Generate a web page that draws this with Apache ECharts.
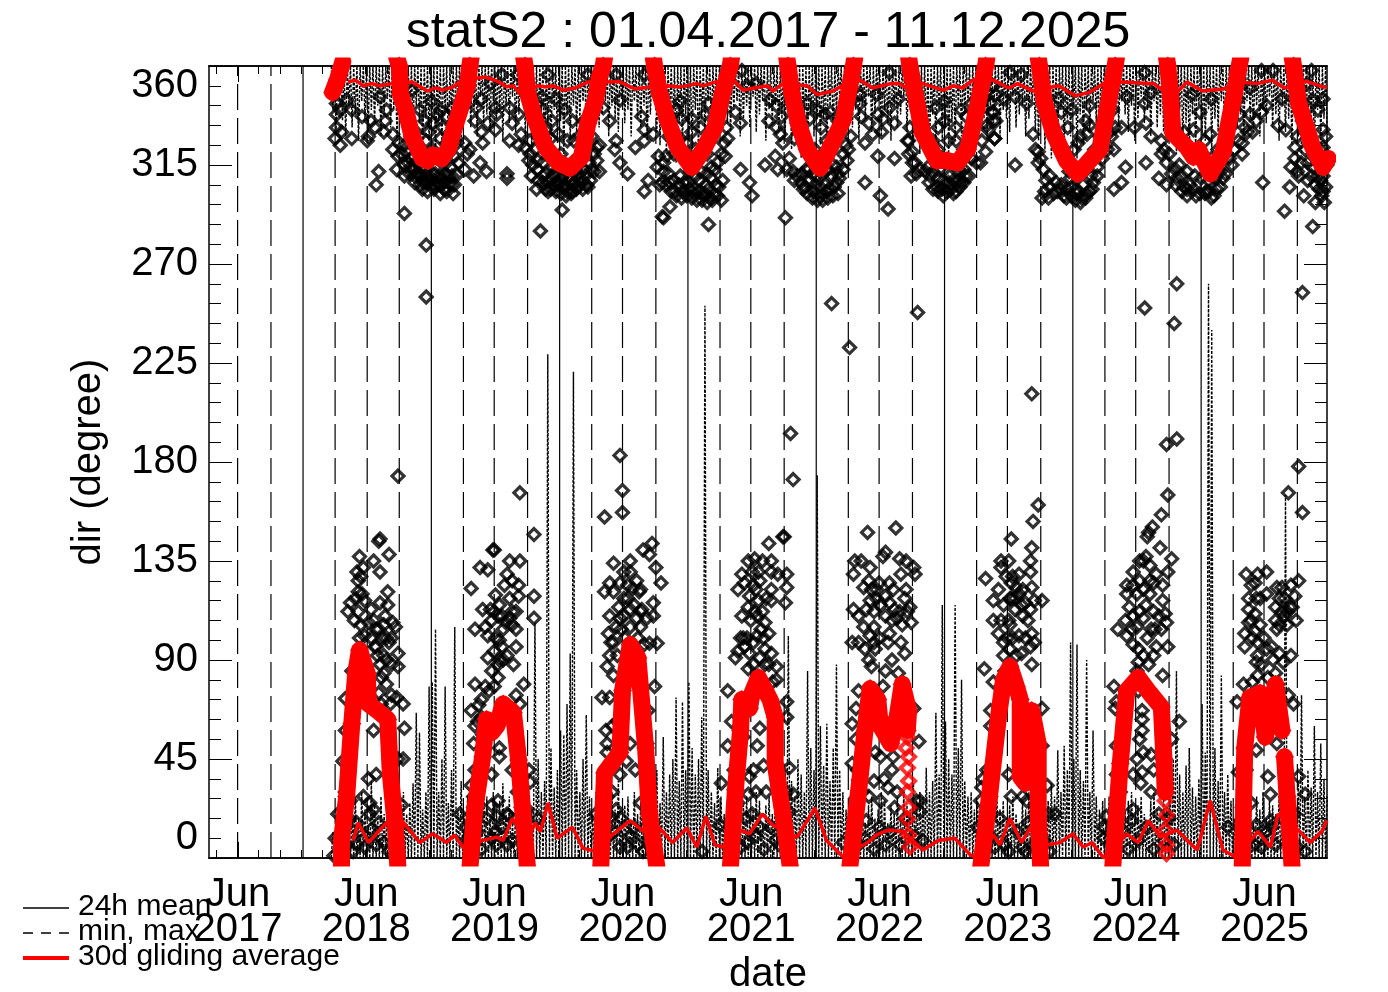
<!DOCTYPE html>
<html><head><meta charset="utf-8">
<script src="https://cdn.jsdelivr.net/npm/echarts@6/dist/echarts.min.js"></script>
<style>html,body{margin:0;padding:0;background:#fff}#c{width:1388px;height:992px}</style>
</head><body><div id="c"></div>
<script>
// Dates are written as decimal years minus 2000; directions in degrees.
const chartTitle = 'statS2 : 01.04.2017 - 11.12.2025';
const legendNames = ['24h mean', 'min, max', '30d gliding average'];
const tickYears = [2017,2018,2019,2020,2021,2022,2023,2024,2025];
const yearLines = [17.97,18.97,19.97,20.97,21.97,22.97,23.97,24.97];
const seasonLines = [17.46,17.72,18.22,18.47,18.72,19.22,19.46,19.72,20.22,20.46,20.72,21.22,21.46,21.72,22.22,22.46,22.72,23.22,23.46,23.72,24.22,24.46,24.72,25.22,25.46,25.72];

// 24h means: pairs of date, direction
const meanWinter19 = [18.23,343,18.31,344.5,18.26,340,18.23,338,18.35,340,18.23,332,18.27,330,18.22,327,18.35,327,18.26,324,18.43,337,18.50,335,18.53,332,18.48,328,18.47,326,18.57,346,18.62,340,18.61,335,18.60,330,18.67,329,18.67,322,18.70,313,18.76,310,18.56,312,18.54,306,18.76,293,18.82,349,18.71,319,18.79,316,18.86,311,18.91,307,18.97,309,19.04,306,19.10,310,19.17,310.5,19.14,302,19.00,311,18.92,313,18.87,316,18.97,344,19.04,340,18.92,335,18.98,334,19.04,327,18.95,330,19.09,337,19.13,341,18.94,309,19.01,306,19.07,307,19.12,306,18.89,310,18.83,313,18.81,318,18.93,278.6,18.93,255];
const meanYear19 = [19.23,313,19.30,310,19.35,316,19.40,312,19.25,320,19.27,322,19.23,325,19.37,325,19.36,330,19.47,331,19.48,338,19.47,341,19.32,341,19.36,345,19.31,335,19.41,334,19.56,311,19.56,309,19.58,326,19.60,334,19.58,341,19.52,356,19.64,356,19.43,352,19.65,338,19.67,329,19.65,324,19.70,323,19.74,326];
const meanWinter20 = [19.73,317,19.80,317,19.75,310,19.79,304,19.88,303,19.96,306,20.02,301,20.10,304,20.18,306,20.22,313,20.26,317,20.26,323,19.93,311,19.86,311,20.04,310,20.12,311,19.99,294.5,19.82,285,19.91,335,19.96,329,20.08,326,19.83,346,19.84,340,20.01,340,19.88,356,20.19,356,19.90,309,19.98,309,20.07,306,20.14,307,20.00,305,19.84,307,20.06,302];
const meanYear20 = [20.31,341,20.36,335,20.41,326,20.40,322,20.56,323,20.44,316,20.50,311,20.66,308,20.63,303,20.73,314,20.77,307,20.77,291.5,20.41,356,20.63,356,20.44,344.5,20.61,337,20.63,331,20.63,326,20.74,319,20.70,329];
const meanWinter21 = [20.78,316,20.75,306,20.83,307,20.87,303,20.83,296,20.78,291,21.13,288,20.91,344,20.92,336,21.00,336,21.00,330,20.91,327,20.80,319,20.91,310,20.97,307,21.02,304,21.09,301,21.14,300,21.23,299,21.21,305,21.15,309,21.18,313,21.06,308,20.93,303,21.12,311,21.26,319,21.28,327,21.13,343,21.10,338];
const meanYear21 = [21.38,334,21.34,339,21.38,313,21.45,307,21.47,301,21.73,291,21.57,315,21.65,319,21.67,313,21.60,335,21.66,342,21.61,344.5,21.50,352,21.43,351,21.39,358,21.66,332,21.69,329,21.71,325,21.70,337,21.75,358];
const meanWinter22 = [21.74,313,21.80,308,21.87,304,21.95,303,22.00,301,22.05,303,22.13,307,22.09,310,21.89,313,21.97,310,22.13,314,22.21,317,22.20,324,22.01,332,22.08,339,21.92,336,21.90,343];
const meanYear22 = [22.31,343,22.32,337,22.38,334,22.35,325,22.41,329,22.48,330,22.45,319,22.58,318,22.35,307,22.47,301,22.53,295,22.45,338,22.54,341,22.61,345,22.58,334,22.49,336,22.54,357,22.44,347,22.31,347,22.09,252,22.23,232,22.76,248];
const meanWinter23 = [22.69,326,22.69,320,22.75,311,22.86,310,22.91,305,22.96,301,23.04,302,23.10,307,23.13,310,22.93,313,23.01,310,23.08,313,22.90,341,22.97,335,22.92,332,23.06,332,23.14,337,23.25,316,23.29,321,23.35,339,23.36,327,23.31,331,23.35,335,23.35,351,23.18,343];
const meanYear23 = [23.34,339,23.37,335,23.36,327,23.52,315,23.43,345,23.52,346,23.61,343,23.37,347,23.48,357,23.57,356,23.65,211];
const meanWinter24 = [23.66,329,23.70,321,23.70,316,23.74,313,23.79,310,23.75,303,23.82,302,23.87,304,23.92,300,23.99,299,24.10,303,24.13,307,24.16,310,24.00,304,24.05,306,23.95,309,23.88,339,23.93,332,24.01,325,24.08,329,24.10,342];
const meanYear24 = [24.29,322,24.26,330,24.35,332,24.45,332,24.54,334,24.58,328,24.54,316,24.38,314,24.35,307,24.29,304,24.64,309,24.53,343,24.58,348,24.53,357,24.39,346,24.53,250,24.78,261,24.76,243];
const meanWinter25 = [24.66,320,24.70,316,24.77,313,24.70,306,24.77,306,24.86,304,24.93,301,25.05,300,25.09,304,25.01,303,25.14,309,25.21,315,25.29,320,25.29,325,25.40,335,25.31,332,24.96,339,24.91,331,25.04,329,24.90,347];
const meanYear25 = [25.48,342,25.44,339,25.57,333,25.63,331,25.70,323,25.67,314,25.73,310,25.45,307,25.66,305,25.77,301,25.62,294,25.86,298,25.91,301,25.84,344.5,25.83,358,25.60,345,25.53,358,25.44,358,25.92,331,25.92,323,25.90,308,25.93,298,25.84,287,25.27,338,25.76,257];
const denseWinter19 = [18.72,325,18.76,324,19.12,326,19.17,325,18.74,320,18.78,321,18.83,319,19.10,320,19.15,319,18.76,315,18.81,314,18.85,316,18.89,314,19.07,315,19.12,314,19.18,316,18.80,311,18.84,310,18.88,311,18.93,310,18.98,311,19.03,310,19.08,311,19.13,310,18.84,307,18.88,306,18.93,307,18.98,306,19.02,307,19.07,304,19.11,307,19.15,306,18.90,304,18.94,303,18.99,304,19.04,302,19.09,303,18.88,340,18.93,326,18.98,322,19.02,338,19.06,332,18.85,330,19.09,325];
const denseWinter20 = [19.74,320,19.78,322,20.24,320,20.28,324,19.76,315,19.80,313,19.84,316,20.20,316,20.24,312,20.28,312,19.80,308,19.84,310,19.88,307,19.92,306,19.97,307,20.01,306,20.05,308,20.09,307,20.13,309,20.17,310,20.21,308,19.86,304,19.90,304,19.94,303,19.98,302,20.03,303,20.07,303,20.11,305,20.15,304,20.19,305,19.92,314,19.96,313,20.00,310,20.04,314,20.08,312,20.12,315,20.16,313,19.94,345,19.98,320,20.03,326,20.07,335,20.12,328,19.90,327,19.86,331,20.16,335,20.22,328];
const denseWinter21 = [20.78,312,20.82,311,20.86,308,20.90,306,20.94,307,20.98,304,21.02,302,21.06,303,21.10,302,21.13,304,21.17,302,21.20,301,21.24,308,20.80,306,20.84,303,20.88,301,20.92,300,20.96,301,21.00,300,21.04,299,21.08,299,21.12,298,21.16,299,21.19,306,20.99,312,21.03,310,21.07,312,21.11,306,21.15,314,21.20,316,21.23,320,21.25,325,21.27,332,20.86,320,20.82,328,20.96,325,21.03,322,21.07,332,21.14,326,21.18,335,21.12,320,20.88,340];
const denseWinter22 = [21.76,318,21.79,312,21.82,310,21.85,307,21.88,305,21.92,308,21.96,306,22.00,305,22.04,306,22.07,304,22.11,305,22.15,309,21.90,302,21.94,300,21.98,299,22.02,299,22.06,300,22.10,301,22.14,302,21.86,311,21.91,313,21.94,311,22.02,311,22.06,313,22.10,315,22.14,311,22.18,313,22.22,322,22.24,328,22.18,320,21.80,327,21.84,330,22.05,326,22.10,325,22.14,335,22.04,338,21.98,340,22.12,330,21.96,322];
const denseWinter23 = [22.70,332,22.68,326,22.72,321,22.72,316,22.78,313,22.82,312,22.85,307,22.88,304,22.92,303,22.95,304,22.99,303,23.02,304,23.06,303,23.09,305,23.12,307,23.16,310,22.84,314,22.88,312,22.92,309,22.96,308,23.00,307,23.04,308,23.08,308,23.12,313,22.88,326,22.84,325,22.92,322,23.00,326,23.06,326,23.12,322,23.18,318,23.22,316,23.26,326,23.30,333,23.33,343,23.22,345,23.28,345,22.97,344,23.10,340,23.16,330,22.74,316,22.71,310];
const denseWinter24 = [23.68,322,23.72,318,23.76,308,23.79,305,23.84,307,23.88,306,23.92,304,23.96,305,24.00,302,24.04,300,24.08,302,24.12,304,23.78,300,23.85,303,23.90,301,23.96,301,24.03,298,24.07,300,24.11,310,24.16,314,24.20,318,24.24,322,24.27,328,24.30,332,23.94,312,24.00,312,24.06,312,24.10,316,24.14,322,24.18,328,24.22,335,23.98,322,24.03,328,24.07,335,23.86,345,23.96,340,24.10,333,24.28,340,23.73,300];
const denseWinter25 = [24.66,326,24.68,322,24.72,320,24.74,311,24.78,309,24.82,310,24.84,305,24.88,306,24.82,303,24.86,301,24.91,304,24.96,302,25.00,302,25.03,303,25.07,301,25.12,305,25.16,311,25.19,318,25.23,322,25.26,326,25.33,330,25.37,330,25.35,338,24.80,315,24.86,312,24.92,310,24.97,309,25.03,308,25.08,309,25.12,312,25.16,320,24.94,322,25.00,326,25.05,318,25.10,322,25.20,332,25.26,345,25.35,350,25.05,345,24.84,330,24.75,342];
const denseWinter26 = [25.70,318,25.72,312,25.75,316,25.78,322,25.80,316,25.83,310,25.86,306,25.89,304,25.92,303,25.94,305,25.80,308,25.84,314,25.88,310,25.92,310,25.95,315,25.78,330,25.76,335,25.90,322,25.94,328,25.88,340,25.92,345,25.72,328,25.74,345,25.80,352];
const meanSummer18 = [18.56,144,18.64,138,18.41,137,18.52,135,18.44,132,18.39,130,18.57,130,18.40,126,18.40,121,18.63,121,18.45,117,18.34,116,18.50,113,18.57,116,18.63,115,18.32,112,18.40,112,18.37,108,18.48,107,18.61,110,18.69,105,18.67,107,18.54,104,18.62,100,18.41,100,18.50,100,18.64,98,18.53,96,18.71,93,18.60,92,18.57,88,18.71,87,18.58,82,18.56,75,18.62,79,18.65,70,18.70,73,18.75,70,18.30,72.5,18.76,59,18.30,58,18.52,58,18.35,85,18.75,45,18.71,45,18.48,36,18.54,38,18.49,25,18.49,20,18.56,16,18.60,7,18.24,20,18.22,9,18.21,1,18.39,6,18.39,16,18.34,26,19.19,20,18.28,44,18.32,44,18.71,173.6,18.57,145];
const meanSummer19 = [19.46,140,19.28,122.5,19.35,132,19.41,131,19.58,135,19.66,135,19.56,129,19.54,124,19.60,126,19.65,124,19.47,119.5,19.58,118,19.65,119,19.77,119,19.37,113,19.43,113,19.50,115,19.49,110,19.63,112,19.77,109,19.58,109,19.31,104,19.39,105,19.41,101,19.53,104,19.63,104,19.60,106,19.50,99,19.63,96,19.52,96,19.41,91,19.61,88,19.53,90,19.44,85,19.49,82,19.31,79,19.39,78,19.36,72,19.28,67,19.34,69.5,19.63,74,19.66,70,19.69,79,19.31,60,19.30,52,19.50,50,19.50,46,19.60,40,19.73,40,19.74,34.5,19.28,33,19.44,38,19.49,26,19.44,24,19.48,19,19.47,12,19.57,19.5,19.24,14,19.80,18,19.56,6,19.24,8,19.66,166,19.77,147,19.45,140];
const meanSummer20 = [20.39,134,20.52,135,20.36,125,20.52,130,20.57,126,20.32,121,20.39,121,20.47,118,20.54,122.5,20.59,121,20.43,114,20.61,113,20.36,110,20.44,109,20.52,113,20.57,109,20.65,109,20.35,102,20.39,98,20.45,104,20.36,92,20.34,87,20.39,83,20.30,73,20.36,73,20.25,20,20.34,52,20.34,48,20.52,52,20.44,38,20.49,44,20.63,97,20.69,143,20.62,140,20.67,138,20.72,132,20.76,125,20.60,122,20.70,116,20.70,110,20.60,112,20.67,97.6,20.73,97.6,20.71,78,20.66,67,20.65,52,20.60,105,20.44,183,20.46,167,20.46,157,20.32,155,20.44,5,20.52,10,20.30,12,20.36,18,20.58,6,20.64,14];
const meanSummer21 = [21.71,146,21.60,143,21.49,136,21.44,135,21.55,135,21.62,135,21.39,129,21.62,130,21.67,129,21.74,129,21.53,126,21.41,125,21.36,122,21.48,124,21.62,122,21.74,123,21.45,119,21.52,117,21.62,117,21.73,116,21.44,114,21.39,110,21.51,110,21.57,107,21.54,104,21.60,102,21.40,100,21.51,101,21.41,96,21.36,94,21.45,93,21.34,91,21.53,91,21.62,93,21.57,95,21.44,86,21.57,88,21.66,87,21.66,81,21.28,76,21.74,71,21.74,64,21.31,62,21.53,59,21.51,51,21.28,51,21.56,42,21.76,41,21.45,37,21.23,34,21.44,29,21.79,29,21.47,20,21.76,21,21.53,14,21.22,15,21.65,8,21.43,7,21.08,3,21.77,193,21.79,172,21.72,146];
const meanSummer22 = [22.51,139,22.49,137,22.27,135,22.32,135,22.62,136,22.67,135,22.39,132,22.26,129,22.73,132,22.74,129,22.63,129,22.38,126,22.54,125,22.34,123,22.44,122,22.67,122,22.57,122,22.39,117,22.51,119,22.66,118,22.26,113,22.36,113,22.47,115,22.58,113,22.70,114,22.51,110,22.60,109,22.71,107,22.34,105,22.42,105,22.54,102,22.39,101,22.25,98,22.53,98,22.63,98,22.66,93,22.35,95,22.43,95,22.38,90,22.40,87,22.51,85,22.61,84,22.30,76,22.49,78,22.25,61,22.73,68,22.28,54,22.77,53,22.43,48,22.47,46,22.25,43,22.57,46,22.56,40,22.53,32,22.47,26,22.58,23,22.78,26,22.75,26,22.78,21,22.36,17,22.51,6,22.18,7,22.37,148,22.59,150];
const meanSummer23 = [23.49,145,23.65,141,23.41,135,23.64,135,23.41,132,23.64,130,23.29,127,23.55,129,23.45,128,23.49,125,23.39,122,23.53,123,23.65,123,23.58,122,23.35,117,23.43,115,23.49,118,23.67,117,23.73,117,23.52,113,23.57,115,23.64,113,23.35,108,23.41,108,23.62,108,23.48,106,23.39,102,23.43,98,23.55,101,23.60,100,23.65,102,23.67,98,23.64,96,23.57,93,23.43,92,23.65,88,23.28,86,23.35,80,23.73,68,23.33,67,23.33,60,23.73,51,23.27,36,23.77,33,23.26,32,23.25,26,23.47,38,23.58,28,23.61,26,23.78,20,23.83,20,23.23,14,23.47,3,23.60,3,23.79,3,23.70,160.5,23.66,153];
const meanSummer24 = [24.56,148,24.65,141,24.74,136,24.54,137,24.49,135,24.57,133,24.44,130,24.62,129,24.71,130,24.49,126,24.57,126,24.67,124,24.39,124,24.44,124,24.39,120,24.57,120,24.67,117,24.41,114,24.49,112,24.60,112,24.69,111,24.38,108,24.52,109,24.70,107,24.32,104,24.47,105,24.61,104,24.39,101,24.55,100,24.48,95,24.71,96,24.60,92,24.48,89,24.67,83,24.47,85,24.29,78,24.31,71,24.30,68,24.51,67,24.51,63,24.51,58,24.49,54,24.80,62,24.74,54,24.31,51,24.58,47,24.47,45,24.31,38,24.44,38,24.60,40,24.51,39,24.58,30,24.21,14,24.23,19,24.21,9,24.43,17,24.78,190.5,24.70,188,24.66,156,24.59,150.5,24.55,146,24.71,165];
const meanSummer25 = [25.32,129,25.41,129,25.48,130,25.39,125,25.73,126,25.56,123,25.67,124,25.60,123,25.34,118,25.40,118,25.48,120,25.70,119,25.55,114,25.62,118,25.34,113,25.39,111,25.66,114,25.71,108,25.34,107,25.55,108,25.62,110,25.31,102,25.43,106,25.39,103,25.56,104,25.31,96,25.41,98,25.52,96,25.48,95,25.41,92,25.40,89,25.58,93,25.67,92,25.61,89,25.41,83,25.55,84,25.30,79,25.49,82,25.25,71,25.65,74,25.69,70,25.43,64,25.40,49,25.56,52,25.26,39,25.49,37,25.73,37,25.78,29,25.51,29,25.30,31,25.18,14,25.51,17,25.52,14,25.39,6,25.78,3,25.73,178,25.76,157,25.65,166];
const denseSummer18 = [18.42,128,18.43,120,18.38,118,18.42,106,18.45,101,18.52,108,18.56,104,18.59,100,18.60,106,18.66,100,18.54,96,18.55,92,18.62,90,18.66,88,18.60,84,18.66,74,18.58,70,18.29,14,18.31,6,18.33,18,18.36,3,18.41,12,18.45,5,18.50,13,18.54,6,18.64,3,18.68,8,18.72,14,18.30,30,18.27,10,18.74,24,18.44,28,18.52,22];
const denseSummer19 = [19.44,108,19.46,112,19.52,110,19.55,107,19.60,112,19.47,100,19.46,94,19.50,90,19.56,92,19.49,88,19.46,78,19.42,76,19.36,64,19.33,62,19.37,56,19.31,40,19.30,28,19.33,12,19.36,4,19.40,18,19.44,9,19.52,14,19.56,20,19.60,8,19.64,30,19.66,16,19.70,4,19.72,22,19.48,6,19.29,20];
const denseSummer20 = [20.44,125,20.47,130,20.50,124,20.50,118,20.47,110,20.52,105,20.55,115,20.48,100,20.41,105,20.37,98,20.58,100,20.42,92,20.33,58,20.35,40,20.38,60,20.34,28,20.38,30,20.41,22,20.34,9,20.40,12,20.45,18,20.50,5,20.55,14,20.62,3,20.66,9,20.70,16,20.60,25,20.42,62,20.56,40];
const denseSummer21 = [21.47,130,21.50,122,21.52,130,21.46,108,21.49,112,21.55,112,21.58,118,21.56,100,21.48,98,21.43,100,21.38,100,21.48,88,21.60,88,21.63,80,21.36,50,21.33,40,21.40,55,21.48,40,21.36,25,21.33,12,21.38,5,21.42,18,21.50,30,21.50,10,21.56,4,21.62,14,21.68,6,21.72,12,21.74,30,21.58,30];
const denseSummer22 = [22.46,125,22.44,118,22.42,112,22.40,122,22.54,116,22.56,108,22.62,112,22.64,106,22.68,112,22.42,98,22.46,100,22.56,90,22.30,110,22.30,98,22.28,68,22.29,40,22.33,30,22.38,28,22.42,35,22.50,36,22.60,30,22.27,15,22.30,6,22.35,9,22.42,4,22.46,14,22.55,12,22.62,6,22.66,18,22.74,10,22.80,8];
const denseSummer23 = [23.47,135,23.48,118,23.50,128,23.52,118,23.55,120,23.47,108,23.50,100,23.58,110,23.60,116,23.46,100,23.53,92,23.44,85,23.48,95,23.30,40,23.30,22,23.33,10,23.36,5,23.40,18,23.44,6,23.49,28,23.54,12,23.58,5,23.62,16,23.66,6,23.70,12,23.75,8,23.28,8];
const denseSummer24 = [24.52,135,24.47,120,24.52,122,24.60,125,24.44,110,24.54,115,24.64,110,24.43,104,24.58,104,24.66,104,24.44,97,24.62,96,24.52,92,24.56,88,24.48,76,24.52,48,24.50,34,24.34,30,24.37,12,24.40,4,24.44,22,24.48,8,24.54,14,24.60,4,24.64,20,24.68,8,24.72,18,24.76,6,24.30,20];
const denseSummer25 = [25.36,124,25.43,118,25.36,108,25.37,100,25.46,100,25.58,118,25.60,112,25.64,112,25.58,106,25.64,106,25.68,114,25.53,90,25.37,80,25.44,88,25.33,60,25.32,40,25.36,25,25.40,15,25.44,5,25.48,12,25.55,6,25.60,18,25.66,10,25.70,20,25.72,5,25.34,8,25.30,16];

// Daily maximum in the lower band and minimum in the upper band, one value per sample from 2018.19
const maxLow18 = [12,18,22,14,25,16,20,28,18,30,22,15,35,24,18,28,20,32,15,22,26,18,30,20,25,34,66,57,22,30,78,80];
const maxLow19 = [104,30,45,78,25,40,105,22,35,18,28,15,30,20,25,35,28,18,30,22,26,34,20,28,16,24,30,18,26,32,22,107,45,30,35,229,50,32,40,58];
const maxLow20 = [56,70,93,221,40,30,45,65,28,20,30,22,18,26,14,30,22,35,18,24,28,16,30,20,26,18,34,22,28,40,25,55,30,38,45,73,35,71,40,80];
const maxLow21 = [50,38,45,64,251,40,30,25,41,28,20,18,26,22,30,16,24,28,18,22,30,26,16,24,28,20,34,24,30,40,101,35,28,45,38,30,85,50,40,174];
const maxLow22 = [60,42,61,35,50,88,40,30,22,28,18,26,20,30,16,24,28,18,22,30,26,16,24,20,28,18,30,24,22,34,26,30,28,41,30,35,66,38,115,62];
const maxLow23 = [45,38,115,50,81,35,28,30,22,26,18,28,20,24,16,30,22,26,18,24,28,20,16,26,22,30,18,28,24,20,30,26,34,28,49,30,51,40,98,45];
const maxLow24 = [97,40,35,90,30,58,28,22,26,18,28,20,24,30,16,22,26,30,18,24,28,20,16,26,30,22,18,28,24,30,45,85,38,30,42,50,32,28,36,70];
const maxLow25 = [48,261,240,50,35,83,30,38,26,18,28,22,30,20,24,16,28,22,30,18,26,24,20,28,22,165,26,30,24,35,74,28,40,32,60,30,52,36,28];
const minHigh18 = [340,330,345,335,328,342,332,338,326,344,336,330,340,334,342,328,338,345,332,340,326,336,344,330,338,328,342,334,320,336,326,340];
const minHigh19 = [318,335,325,340,322,338,330,344,326,336,342,332,340,328,346,334,338,330,344,336,340,326,342,334,346,330,338,344,328,340,322,336,326,338,318,334,322,340,325,335];
const minHigh20 = [320,338,326,342,330,336,344,328,340,334,346,332,338,344,328,342,336,330,345,334,340,328,344,336,332,342,326,338,346,330,324,340,320,336,328,316,334,322,338,326];
const minHigh21 = [322,340,318,336,328,344,332,338,326,342,346,334,330,340,344,328,336,342,332,346,330,338,344,326,340,334,342,330,336,328,338,322,340,326,318,334,320,338,328,336];
const minHigh22 = [324,336,320,342,330,338,346,328,334,344,332,340,326,342,336,346,330,338,344,328,340,334,326,342,332,338,346,330,340,324,336,320,334,328,316,338,322,340,326,332];
const minHigh23 = [320,334,326,342,328,338,344,332,340,330,346,336,326,342,334,344,328,340,336,330,346,332,338,342,328,336,344,330,326,340,322,338,318,334,324,340,320,336,328,342];
const minHigh24 = [318,338,324,340,330,344,334,326,342,336,346,328,340,332,344,338,330,342,326,336,346,334,340,328,344,332,338,330,342,326,336,320,340,324,334,318,338,322,342,328];
const minHigh25 = [326,340,322,336,330,344,328,342,334,346,332,338,326,344,336,330,342,328,340,334,346,332,338,326,342,330,336,324,340,328,320,338,324,334,318,340,326,336,330];

// 30 day gliding average: thick branches (each one sweeps through 360/0) and the thin companion line
const redU18 = [18.20,348,18.24,354,18.28,362];
const redU19 = [18.70,364,18.72,360,18.73,347,18.77,340,18.82,328,18.90,318,18.94,317,18.98,319.5,19.05,318,19.10,322,19.15,332,19.21,343,19.25,351,19.27,360,19.28,364];
const redU20 = [19.69,364,19.70,360,19.72,347.7,19.78,335.5,19.86,323,19.96,316,20.05,313.6,20.14,318.6,20.19,334,20.25,344.5,20.28,355,20.31,360,20.32,364];
const redU21 = [20.70,364,20.71,360,20.75,347.7,20.81,335.5,20.89,323,21.00,314,21.09,322,21.18,332,21.24,347.7,21.30,360,21.31,364];
const redU22 = [21.74,364,21.75,360,21.78,347.7,21.83,334,21.90,322,22.00,313.6,22.08,323,22.18,335.5,22.23,350.5,22.26,360,22.27,364];
const redU23 = [22.69,364,22.70,360,22.74,347.7,22.80,329.5,22.91,317,22.99,317,23.07,316,23.15,322,23.22,340,23.29,360,23.30,364];
const redU24 = [23.70,364,23.71,360,23.75,343,23.82,329.5,23.92,317,24.01,311,24.10,317,24.18,322,24.24,341,24.30,360,24.31,364];
const redU25 = [24.70,364,24.71,360,24.73,347.7,24.75,329.5,24.86,323,24.91,318.6,24.95,322,25.04,311,25.14,320.5,25.22,344.5,25.26,358,25.28,364];
const redU26 = [25.68,364,25.69,360,25.73,343,25.78,334,25.84,323,25.92,314,25.96,318];
const redH18 = [18.27,-5,18.27,8,18.31,28,18.35,61,18.38,84,18.41,94.5,18.47,84,18.48,70,18.55,67,18.63,63,18.65,38.6,18.69,14,18.71,-5];
const redH19 = [19.27,-5,19.31,23,19.37,46,19.40,63,19.44,57,19.48,60,19.53,70,19.61,66,19.65,44.5,19.68,23,19.72,-5];
const redH20 = [20.29,-5,20.32,38.6,20.44,48,20.46,76,20.52,97,20.58,91,20.64,50,20.67,20,20.73,-5];
const redH21 = [21.30,-5,21.34,31,21.38,58,21.39,72,21.45,68,21.47,75,21.52,82,21.61,72,21.65,64,21.65,43,21.71,20,21.77,-5];
const redH22 = [22.23,-5,22.31,35.5,22.35,58,22.39,77,22.45,72,22.47,60,22.55,52,22.60,64,22.64,79,22.69,67,22.68,58];
const redH23 = [23.25,-5,23.32,28,23.39,64,23.43,81,23.48,87,23.53,78,23.56,72,23.56,37,23.60,34,23.65,67,23.70,52,23.70,20,23.72,-5];
const redH24 = [24.28,-5,24.34,43,24.39,76,24.48,82,24.57,75,24.66,68.6,24.68,45,24.69,30];
const redH25a = [25.29,-5,25.30,23,25.31,50,25.35,73,25.43,75,25.47,55,25.55,79,25.60,58];
const redH25b = [25.62,46,25.64,28,25.68,-5];
const redHollowDiamonds = [22.68,55,22.67,50,22.69,46,22.68,41,22.69,35,22.68,30,22.69,23,22.68,17.7,22.69,10.5,22.70,5,24.69,26,24.70,19.5,24.69,12.7,24.70,6,24.70,2];
const redThinTop = [18.32,352.7,18.38,353.6,18.44,351,18.51,352,18.57,351,18.66,352,18.82,352.7,18.94,348.6,19.00,350,19.06,349,19.14,350.5,19.21,353.6,19.39,355,19.49,353,19.56,350.5,19.61,351,19.65,348,19.70,349,19.80,351,19.86,350.5,19.92,351,20.00,349,20.09,350,20.19,352.7,20.34,352.7,20.43,353,20.56,349.5,20.67,350.5,20.81,351,20.91,350.5,21.04,352,21.09,351,21.18,352.7,21.34,352.7,21.40,349,21.49,350,21.59,351,21.63,348.6,21.71,352,21.90,351,21.98,347,22.10,348.6,22.17,351,22.31,353.6,22.41,350,22.55,352,22.62,352,22.69,349,22.80,352,22.96,349,23.04,351,23.11,350,23.19,353.6,23.35,353.6,23.47,350,23.54,352,23.66,348.6,23.86,351,23.99,346.4,24.10,348,24.21,352,24.36,352.7,24.55,352,24.60,352,24.67,349,24.78,348,24.86,352.7,24.98,348.6,25.14,349.5,25.25,352.7,25.41,352,25.52,353.6,25.62,350,25.79,353,25.92,350.5,25.95,350.5];
const redThinBottom = [18.36,8,18.40,16,18.48,7,18.62,16,18.74,17,18.88,7,18.98,11,19.09,7,19.15,10.5,19.22,4.5,19.37,8,19.48,9.5,19.53,8,19.60,18,19.72,8,19.78,16,19.82,12,19.88,25,19.95,9,20.07,14,20.15,4.5,20.25,3,20.39,11,20.52,17,20.65,11,20.75,13.6,20.85,7,20.96,13.6,21.04,5,21.11,19,21.18,6,21.24,5,21.38,12.7,21.45,11,21.55,20,21.63,15,21.82,9.5,21.96,22.7,22.05,8,22.18,0.5,22.37,7,22.44,10.5,22.53,12.7,22.65,12,22.80,3.6,22.92,8,23.05,9,23.17,1.4,23.22,0,23.35,10.5,23.40,6,23.48,18,23.57,7,23.66,16,23.77,6,23.87,7,23.97,11,24.05,5,24.12,7,24.21,0,24.39,11,24.48,7,24.56,17,24.65,9.5,24.78,12.7,24.94,3.6,25.04,26,25.14,3.6,25.25,0,25.41,12,25.45,9.5,25.51,5,25.57,20,25.74,12,25.82,7,25.91,12,25.95,17];

const Y0 = 2000, X_MIN = 2017.237, X_MAX = 2025.951, SAMPLE_START = 18.19, SAMPLE_STEP = 0.025;
const pairs = a => { const o = []; for (let i = 0; i < a.length; i += 2) o.push([a[i] + Y0, a[i + 1]]); return o; };
const joinBreak = lists => { const o = []; lists.forEach(l => { o.push(...pairs(l), ['-', '-']); }); return o; };
const meanAll = pairs([].concat(meanWinter19, meanYear19, meanWinter20, meanYear20, meanWinter21, meanYear21, meanWinter22, meanYear22, meanWinter23, meanYear23, meanWinter24, meanYear24, meanWinter25, meanYear25,
  denseWinter19, denseWinter20, denseWinter21, denseWinter22, denseWinter23, denseWinter24, denseWinter25, denseWinter26,
  meanSummer18, meanSummer19, meanSummer20, meanSummer21, meanSummer22, meanSummer23, meanSummer24, meanSummer25,
  denseSummer18, denseSummer19, denseSummer20, denseSummer21, denseSummer22, denseSummer23, denseSummer24, denseSummer25));
const zigzag = (vals, base) => { const o = []; vals.forEach((v, i) => { const x = SAMPLE_START + i * SAMPLE_STEP + Y0; o.push([x, base], [x + SAMPLE_STEP / 2, v]); }); return o; };
const maxLow = [].concat(maxLow18, maxLow19, maxLow20, maxLow21, maxLow22, maxLow23, maxLow24, maxLow25);
const minHigh = [].concat(minHigh18, minHigh19, minHigh20, minHigh21, minHigh22, minHigh23, minHigh24, minHigh25);
const verticals = list => { const o = []; list.forEach(v => o.push([v + Y0, 0], [v + Y0, 360], ['-', '-'])); return o; };

const FONT = '"Liberation Sans"';
const majorTicks = tickYears.map(y => y + 0.463);
const minorTicks = [];
for (let i = 0; i < 53; i++) { const v = 2017.29 + i / 6; if (v < X_MAX) minorTicks.push(v); }
const bare = {type:'value', min:X_MIN, max:X_MAX, axisLine:{show:true, onZero:false, lineStyle:{color:'#000', width:1.5}}, splitLine:{show:false}, axisLabel:{show:false}};
const xAxes = [
 Object.assign({}, bare, {position:'bottom', name:'date', nameLocation:'middle', nameGap:97, nameTextStyle:{fontFamily:FONT, fontSize:40, color:'#000'},
   axisTick:{show:true, inside:true, length:16, lineStyle:{color:'#000', width:1}, customValues:majorTicks},
   axisLabel:{show:true, customValues:majorTicks, margin:19, fontFamily:FONT, fontSize:40, lineHeight:35, color:'#000', hideOverlap:false, showMinLabel:true, showMaxLabel:true,
     formatter:v => 'Jun\n' + Math.floor(v)}}),
 Object.assign({}, bare, {position:'bottom', axisTick:{show:true, inside:true, length:8, lineStyle:{color:'#000', width:1}, customValues:minorTicks}}),
 Object.assign({}, bare, {position:'top', axisTick:{show:true, inside:true, length:16, lineStyle:{color:'#000', width:1}, customValues:majorTicks}}),
 Object.assign({}, bare, {position:'top', axisTick:{show:true, inside:true, length:8, lineStyle:{color:'#000', width:1}, customValues:minorTicks}})
];
const yBase = {type:'value', min:0, max:360, interval:45, axisLine:{show:true, onZero:false, lineStyle:{color:'#000', width:1.5}}, splitLine:{show:false},
  axisTick:{show:true, inside:true, length:23, lineStyle:{color:'#000', width:1}}, minorTick:{show:true, splitNumber:5, length:12, lineStyle:{color:'#000', width:1}}, minorSplitLine:{show:false}};
const yAxes = [
 Object.assign({}, yBase, {position:'left', name:'dir (degree)', nameLocation:'middle', nameGap:100, nameRotate:90, nameTextStyle:{fontFamily:FONT, fontSize:40, color:'#000'},
   axisLabel:{margin:11, fontFamily:FONT, fontSize:40, color:'#000', verticalAlignMinLabel:'bottom', verticalAlignMaxLabel:'top'}}),
 Object.assign({}, yBase, {position:'right', axisLabel:{show:false}})
];
const thin = (data, color, width, dash, z) => ({type:'line', data, symbol:'none', silent:true, animation:false, z, connectNulls:false, lineStyle:{color, width, type:dash || 'solid'}});
const series = [
 thin(verticals(yearLines), '#000', 1.2, 'solid', 1),
 thin(verticals(seasonLines), '#000', 1.2, [26, 8], 1),
 thin(zigzag(maxLow, 0), '#000', 1.4, [3, 1.5], 2),
 thin(zigzag(minHigh, 360), '#000', 1.4, [3, 1.5], 2),
 {type:'scatter', data:meanAll, symbol:'diamond', symbolSize:12, z:3, silent:true, animation:false, large:false,
  itemStyle:{color:'rgba(0,0,0,0)', borderColor:'#000', borderWidth:3.2}},
 {type:'line', data:joinBreak([redU18,redU19,redU20,redU21,redU22,redU23,redU24,redU25,redU26,redH18,redH19,redH20,redH21,redH22,redH23,redH24,redH25a,redH25b]),
  symbol:'diamond', symbolSize:19, showSymbol:true, showAllSymbol:true, z:4, silent:true, animation:false, connectNulls:false,
  itemStyle:{color:'#f00'}, lineStyle:{color:'#f00', width:17, cap:'round', join:'round'}},
 {type:'scatter', data:pairs(redHollowDiamonds), symbol:'diamond', symbolSize:13, z:4, silent:true, animation:false,
  itemStyle:{color:'rgba(0,0,0,0)', borderColor:'#f00', borderWidth:4}},
 thin(pairs(redThinTop), '#f00', 3.5, 'solid', 5),
 thin(pairs(redThinBottom), '#f00', 3.5, 'solid', 5)
];
const legendLine = (y, color, w, dash) => ({type:'line', shape:{x1:23, y1:y, x2:69, y2:y}, style:{stroke:color, lineWidth:w, lineDash:dash}, z:10});
const legendText = (y, t) => ({type:'text', x:78, y, style:{text:t, font:'30px ' + FONT, fill:'#000', textVerticalAlign:'middle'}, z:10});
const chart = echarts.init(document.getElementById('c'), null, {renderer:'canvas'});
chart.setOption({
  animation:false, backgroundColor:'#fff',
  title:{text:chartTitle, left:763, top:3, textAlign:'center', textStyle:{fontFamily:FONT, fontSize:50, fontWeight:'normal', color:'#000'}},
  grid:{left:209, top:66, width:1118, height:792, containLabel:false, outerBoundsMode:'none'},
  xAxis:xAxes, yAxis:yAxes, series,
  graphic:[
    legendLine(908, '#000', 1.5), legendLine(933, '#000', 1.5, [10, 8]), legendLine(958, '#f00', 4),
    legendText(907, legendNames[0]), legendText(932, legendNames[1]), legendText(957, legendNames[2])
  ]
});
</script></body></html>
